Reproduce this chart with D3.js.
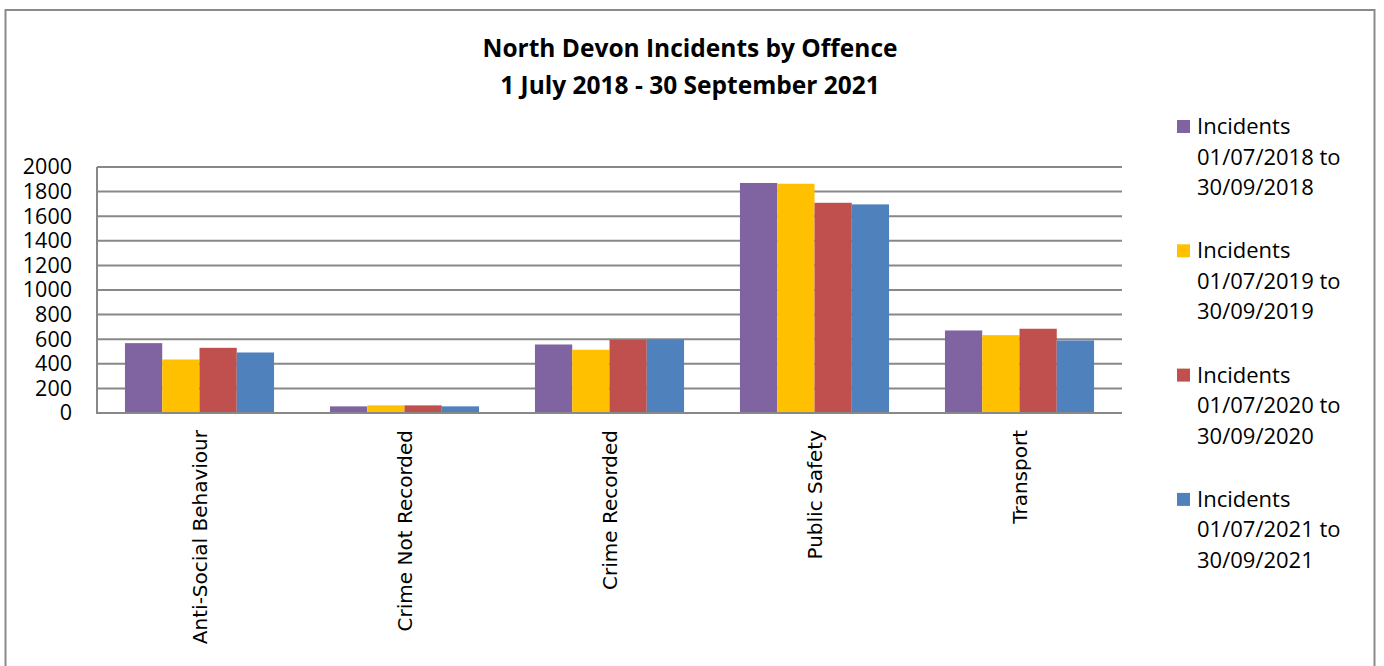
<!DOCTYPE html>
<html>
<head>
<meta charset="utf-8">
<script src="https://cdn.jsdelivr.net/npm/d3@7"></script>
<style>
  html, body { margin: 0; padding: 0; background: #fff; }
  svg { display: block; }
</style>
</head>
<body>
<svg id="chart" width="1384" height="666"></svg>
<script>
const categories = ["Anti-Social Behaviour", "Crime Not Recorded", "Crime Recorded", "Public Safety", "Transport"];
const seriesNames = [
  ["Incidents", "01/07/2018 to", "30/09/2018"],
  ["Incidents", "01/07/2019 to", "30/09/2019"],
  ["Incidents", "01/07/2020 to", "30/09/2020"],
  ["Incidents", "01/07/2021 to", "30/09/2021"]
];
const series2018 = [568, 54, 557, 1870, 671];
const series2019 = [435, 62, 514, 1864, 633];
const series2020 = [530, 62, 595, 1709, 685];
const series2021 = [492, 54, 598, 1696, 590];
const yTicks = [0, 200, 400, 600, 800, 1000, 1200, 1400, 1600, 1800, 2000];
const titleLines = ["North Devon Incidents by Offence", "1 July 2018 - 30 September 2021"];
const colors = ["#8064A2", "#FFC000", "#C0504D", "#4F81BD"];

(function () {
const allSeries = [series2018, series2019, series2020, series2021];
const svg = d3.select("#chart");
const FONT = "'Open Sans', Lato, sans-serif";

// outer border
svg.append("rect")
  .attr("x", 5.5).attr("y", 10).attr("width", 1369).attr("height", 700)
  .attr("fill", "none").attr("stroke", "#8a8a8a").attr("stroke-width", 2);

// title
svg.append("g").selectAll("text").data(titleLines).join("text")
  .attr("x", 690).attr("y", (d, i) => 57 + i * 37)
  .attr("text-anchor", "middle")
  .attr("font-family", FONT).attr("font-weight", "bold").attr("font-size", 24.5)
  .attr("fill", "#000").text(d => d);

const pL = 97, pR = 1122, pT = 167, pB = 413;
const x = d3.scaleBand().domain(categories).range([pL, pR]).padding(0);
const xi = d3.scaleBand().domain(d3.range(allSeries.length)).range([0, x.bandwidth()]).paddingInner(0).paddingOuter(0.75);
const y = d3.scaleLinear().domain([0, 2000]).range([pB, pT]);

// gridlines
svg.append("g").selectAll("line").data(yTicks.filter(t => t > 0)).join("line")
  .attr("x1", pL).attr("x2", pR)
  .attr("y1", d => y(d)).attr("y2", d => y(d))
  .attr("stroke", "#888").attr("stroke-width", 2);

// bars
const g = svg.append("g");
allSeries.forEach((vals, si) => {
  g.append("g").selectAll("rect").data(vals).join("rect")
    .attr("x", (d, i) => x(categories[i]) + xi(si))
    .attr("width", xi.bandwidth())
    .attr("y", d => y(d))
    .attr("height", d => y(0) - y(d))
    .attr("fill", colors[si]);
});

// axes lines
svg.append("line").attr("x1", pL).attr("x2", pL).attr("y1", pT).attr("y2", pB)
  .attr("stroke", "#888").attr("stroke-width", 2);
svg.append("line").attr("x1", pL - 1).attr("x2", pR).attr("y1", pB).attr("y2", pB)
  .attr("stroke", "#888").attr("stroke-width", 2);

// y axis labels
const yAxis = d3.axisLeft(y).tickValues(yTicks).tickSize(0).tickPadding(25).tickFormat(d3.format("d"));
const ya = svg.append("g").attr("transform", `translate(${pL},0)`).call(yAxis);
ya.select(".domain").remove();
ya.selectAll("text").attr("font-family", FONT).attr("font-size", 21.5).attr("fill", "#000");

// x axis labels
svg.append("g").selectAll("text").data(categories).join("text")
  .attr("transform", d => `translate(${x(d) + x.bandwidth() / 2},430) rotate(-90)`)
  .attr("text-anchor", "end").attr("dy", "0.36em")
  .attr("font-family", "'DejaVu Sans', sans-serif").attr("font-size", 20)
  .attr("fill", "#000").text(d => d);

// legend
const lg = svg.append("g");
seriesNames.forEach((lines, si) => {
  const gy = 120 + si * 124.3;
  lg.append("rect").attr("x", 1177).attr("y", gy).attr("width", 13).attr("height", 13).attr("fill", colors[si]);
  lg.append("g").selectAll("text").data(lines).join("text")
    .attr("x", 1197).attr("y", (d, i) => gy + 14 + i * 30.5)
    .attr("font-family", FONT).attr("font-size", 22).attr("fill", "#000").text(d => d);
});
})();
</script>
</body>
</html>
